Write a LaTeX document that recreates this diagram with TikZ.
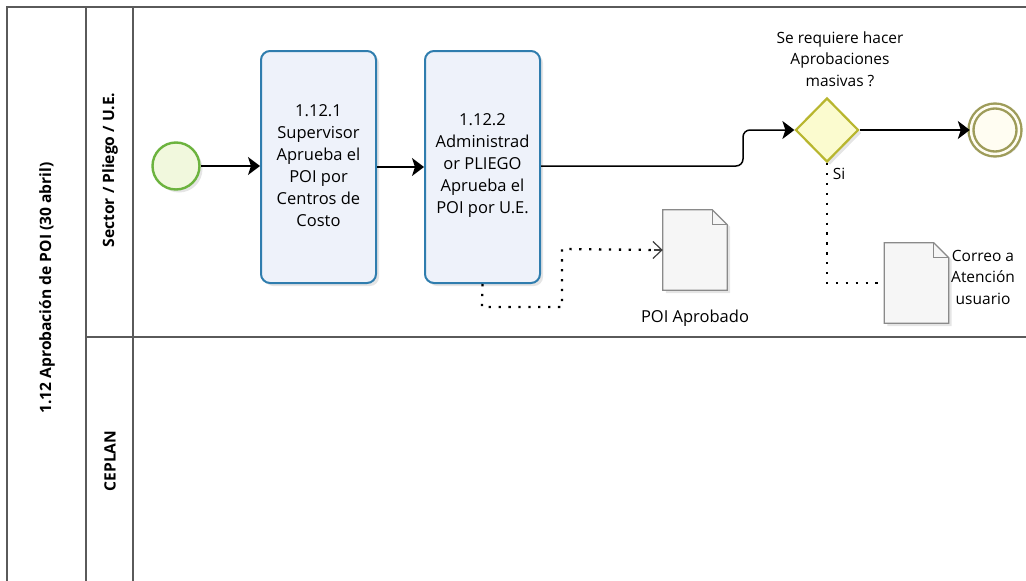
\documentclass[tikz,border=0pt]{standalone}
\usepackage{fontspec}
\setmainfont{Open Sans}
\usetikzlibrary{arrows.meta,shapes.geometric,shadows}
\definecolor{lanegray}{HTML}{5A5A5A}
\definecolor{taskblue}{HTML}{2F7DAE}
\definecolor{taskfill}{HTML}{EEF2FA}
\definecolor{startgreen}{HTML}{6CB33E}
\definecolor{startfill}{HTML}{F1F8DD}
\definecolor{gwstroke}{HTML}{B8B62E}
\definecolor{gwfill}{HTML}{FBFBCF}
\definecolor{endstroke}{HTML}{9E9C5A}
\definecolor{endfill}{HTML}{FFFDF2}
\definecolor{docstroke}{HTML}{8A8A8A}
\definecolor{docfill}{HTML}{F6F6F6}
\tikzset{
  x=1pt,y=-1pt,
  lane/.style={draw=lanegray,line width=1.4pt},
  txt/.style={font=\fontsize{16.5}{22}\selectfont,align=center,inner sep=0pt},
  gwtxt/.style={font=\fontsize{15.5}{21.5}\selectfont,align=center,inner sep=0pt},
  lanelabel/.style={font=\fontsize{15.6}{18}\selectfont\bfseries,rotate=90,inner sep=0pt},
  softshadow/.style={general shadow={fill=black,opacity=.10,shadow xshift=3pt,shadow yshift=-3pt}},
  task/.style={draw=taskblue,line width=2pt,rounded corners=9pt,fill=taskfill,
    minimum width=115pt,minimum height=232pt,softshadow},
  startev/.style={circle,draw=startgreen,line width=2.4pt,fill=startfill,minimum size=47pt,inner sep=0pt,softshadow},
  endev/.style={circle,draw=endstroke,line width=2.4pt,fill=endfill,minimum size=48pt,inner sep=0pt,
    double=endfill,double distance=2.5pt,softshadow},
  gateway/.style={diamond,draw=gwstroke,line width=2.2pt,fill=gwfill,minimum width=63pt,minimum height=64pt,
    inner sep=0pt,aspect=1,softshadow},
  docbox/.style={minimum width=64pt,minimum height=80pt,inner sep=0pt},
  seq/.style={draw=black,line width=1.5pt,-{Stealth[length=12pt,width=18pt,inset=3pt]}},
  assoc/.style={draw=black,line width=2.3pt,dash pattern=on 2.3pt off 7.6pt},
}
\newcommand{\docshape}[1]{%
  \fill[black,opacity=.10] ([xshift=3pt,yshift=-3pt]#1.south west) -- ([xshift=3pt,yshift=-3pt]#1.north west)
    -- ([xshift=-11pt,yshift=-3pt]#1.north east) -- ([xshift=3pt,yshift=-17pt]#1.north east)
    -- ([xshift=3pt,yshift=-3pt]#1.south east) -- cycle;
  \draw[draw=docstroke,fill=docfill,line width=1.2pt] (#1.south west) -- (#1.north west)
    -- ([xshift=-15pt]#1.north east) -- ([yshift=-15pt]#1.north east) -- (#1.south east) -- cycle;
  \draw[draw=docstroke,line width=1.2pt] ([xshift=-15pt]#1.north east) -- ([xshift=-15pt,yshift=-15pt]#1.north east)
    -- ([yshift=-15pt]#1.north east);
}
\begin{document}
\begin{tikzpicture}
\useasboundingbox (0,0) rectangle (1026,581);
\fill[white] (0,0) rectangle (1026,581);
% pool and lanes
\draw[lane] (1030,7) -- (7,7) -- (7,585);
\draw[lane] (86,7) -- (86,585);
\draw[lane] (133,7) -- (133,585);
\draw[lane] (86,337) -- (1030,337);
\node[lanelabel] (pool) at (47,288) {1.12 Aprobación de POI (30 abril)};
\node[lanelabel] (l1) at (110,170) {Sector / Pliego / U.E.};
\node[lanelabel] (l2) at (110,461) {CEPLAN};
% nodes
\node[startev] (start) at (176,166) {};
\node[task] (t1) at (318.5,167) {};
\node[txt] (t1t) at (318.5,166) {1.12.1\\Supervisor\\Aprueba el\\POI por\\Centros de\\Costo};
\node[task] (t2) at (482.5,167) {};
\node[txt] (t2t) at (482.5,166) {1.12.2\\Administrad\\or PLIEGO\\Aprueba el\\POI por U.E.};
\node[gateway] (gw) at (827,130) {};
\node[gwtxt] (gwl) at (840,59) {Se requiere hacer\\Aprobaciones\\masivas ?};
\node[endev] (end) at (995,130) {};
\node[docbox] (d1) at (695,250) {};
\docshape{d1}
\node[txt] (d1l) at (695,318) {POI Aprobado};
\node[docbox] (d2) at (916.5,283) {};
\docshape{d2}
\node[gwtxt,anchor=west] (d2l) at (951,277) {Correo a\\Atención\\usuario};
\node[gwtxt] (si) at (839,174) {Si};
% connectors
\draw[seq] (start.east) -- (t1.west |- start.east);
\draw[seq] (t1) -- (t2);
\draw[seq,rounded corners=7pt] (t2.east |- 0,166) -- (743,166) -- (743,130) -- (gw.west);
\draw[seq] (gw.east) -- (end.west);
\draw[assoc] (t2.south) -- (482,307) -- (562,307) -- (562,249) -- ([xshift=-6pt]d1.west);
\draw[black!75,line width=1.2pt,-{Straight Barb[length=9pt,width=17pt]}] ([xshift=-9pt]d1.west) -- (d1.west);
\draw[assoc] (gw.south) -- (827,283) -- (d2.west);
\end{tikzpicture}
\end{document}
